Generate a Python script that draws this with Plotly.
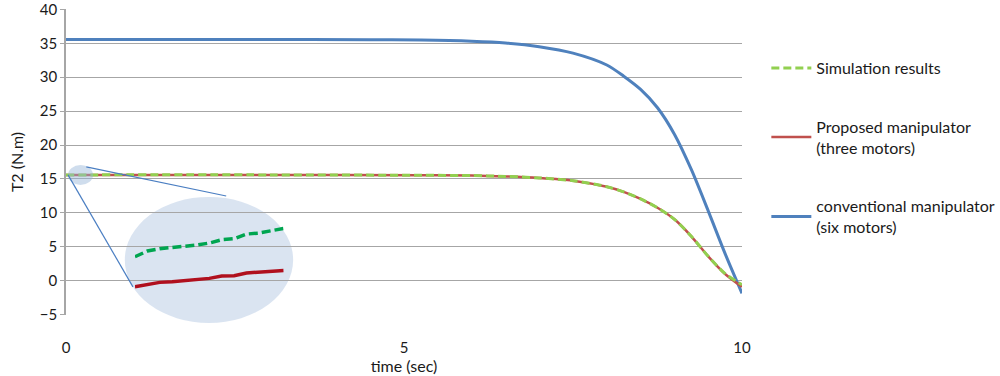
import plotly.graph_objects as go

# main curves
time_blue = [0, 3, 4.5, 5.25, 6.0, 6.5, 7.0, 7.5, 8.0, 8.25, 8.5, 8.75, 9.0, 9.25, 9.5, 9.75, 10]
t2_conventional = [35.55, 35.55, 35.52, 35.47, 35.3, 35.05, 34.5, 33.55, 31.8, 30.15, 28.2, 25.5,
                   21.6, 16.4, 10.3, 4.0, -1.85]

time_red = [0, 3, 5.25, 6.0, 6.5, 7.0, 7.5, 8.0, 8.25, 8.5, 8.75, 9.0, 9.25, 9.5, 9.75, 10]
t2_proposed = [15.6, 15.6, 15.54, 15.5, 15.38, 15.15, 14.75, 13.85, 13.1, 12.05, 10.75, 9.05,
               6.55, 3.6, 1.0, -0.9]
t2_simulation = [15.6, 15.6, 15.54, 15.5, 15.38, 15.15, 14.75, 13.85, 13.1, 12.05, 10.75, 9.05,
                 6.55, 3.6, 1.05, -0.6]

# zoomed inset (first 0.6 s)
time_zoom = [0, 0.05, 0.1, 0.15, 0.2, 0.25, 0.3, 0.35, 0.4, 0.45, 0.5, 0.55, 0.6]
zoom_simulation = [15.580, 15.614, 15.628, 15.636, 15.640, 15.650, 15.662, 15.682, 15.688, 15.716, 15.722, 15.734, 15.750]
zoom_proposed = [15.400, 15.412, 15.426, 15.430, 15.438, 15.444, 15.450, 15.464, 15.466, 15.482, 15.488, 15.494, 15.498]

fig = go.Figure()

fig.add_trace(go.Scatter(x=time_blue, y=t2_conventional, mode="lines", line_shape="spline",
                         line_smoothing=0.8, legend="legend3",
                         name="conventional manipulator<br>(six motors)",
                         line=dict(color="#4F81BD", width=3)))
fig.add_trace(go.Scatter(x=time_red, y=t2_proposed, mode="lines", line_shape="spline",
                         line_smoothing=0.8, legend="legend2",
                         name="Proposed manipulator<br>(three motors)",
                         line=dict(color="#C0504D", width=2.5)))
fig.add_trace(go.Scatter(x=time_red, y=t2_simulation, mode="lines", line_shape="spline",
                         line_smoothing=0.8, legend="legend",
                         name="Simulation results",
                         line=dict(color="#92D050", width=3, dash="8px,4px")))

# inset traces on their own axes
fig.add_trace(go.Scatter(x=time_zoom, y=zoom_simulation, mode="lines", xaxis="x2", yaxis="y2",
                         showlegend=False, line=dict(color="#00A550", width=3.5, dash="9px,4px")))
fig.add_trace(go.Scatter(x=time_zoom, y=zoom_proposed, mode="lines", xaxis="x2", yaxis="y2",
                         showlegend=False, line=dict(color="#B0101E", width=3.5)))

# ellipses and connector lines
fig.add_shape(type="circle", xref="paper", yref="paper", x0=0.087, x1=0.336, y0=-0.026, y1=0.386,
              fillcolor="rgba(149,179,215,0.35)", line_width=0, layer="below")
fig.add_shape(type="circle", xref="paper", yref="paper", x0=0.003, x1=0.040, y0=0.425, y1=0.490,
              fillcolor="rgba(149,179,215,0.45)", line_width=0, layer="above")
fig.add_shape(type="line", xref="paper", yref="paper", x0=0.003, y0=0.458, x1=0.099, y1=0.092,
              line=dict(color="#4A7EC2", width=1.2))
fig.add_shape(type="line", xref="paper", yref="paper", x0=0.030, y0=0.484, x1=0.237, y1=0.389,
              line=dict(color="#4A7EC2", width=1.2))

font = "Lato, 'Open Sans', sans-serif"
leg = dict(x=1.036, xanchor="left", yanchor="middle", font=dict(size=16),
           bgcolor="rgba(0,0,0,0)", itemwidth=40)
fig.update_layout(
    width=1000, height=376,
    margin=dict(l=66, r=258, t=9, b=61, autoexpand=False),
    paper_bgcolor="white", plot_bgcolor="rgba(0,0,0,0)",
    font=dict(family=font, size=15, color="#1a1a1a"),
    showlegend=True,
    legend=dict(leg, y=0.807),
    legend2=dict(leg, y=0.581),
    legend3=dict(leg, y=0.321),
    xaxis=dict(range=[0, 10], dtick=5, showgrid=False, zeroline=False, showline=False,
               automargin=False, ticklabelstandoff=22, tickfont=dict(size=15),
               title=dict(text="time (sec)", standoff=0, font=dict(size=16))),
    yaxis=dict(range=[-5.05, 40.05], tick0=0, dtick=5, showgrid=True, gridcolor="#A6A6A6",
               gridwidth=1.2, automargin=False, ticklabeloverflow="allow",
               zeroline=False, showline=True, linecolor="#A6A6A6", linewidth=1.5,
               ticks="outside", ticklen=4, tickcolor="#A6A6A6", tickfont=dict(size=15),
               title=dict(text="T2 (N.m)", standoff=12, font=dict(size=16))),
    xaxis2=dict(domain=[0.102, 0.322], range=[0, 0.6], anchor="y2", visible=False),
    yaxis2=dict(domain=[0.05, 0.35], range=[15.322, 15.873], anchor="x2", visible=False),
)

fig.write_html("out.html", config={"displayModeBar": False},
               post_script="document.body.style.margin='0';")
